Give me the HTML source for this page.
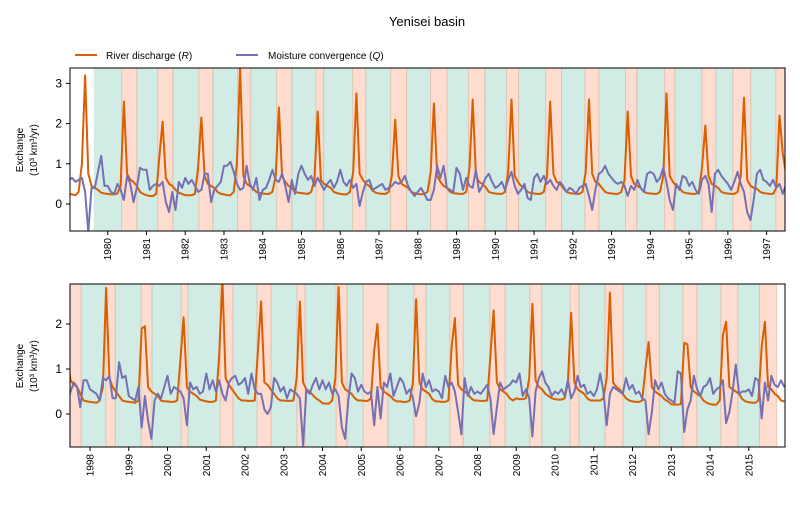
<!DOCTYPE html>
<html><head><meta charset="utf-8"><style>
body{margin:0;background:#fff;}
svg text{font-family:"Liberation Sans","DejaVu Sans",sans-serif;}
</style></head><body>
<svg id="chart" width="800" height="500" xmlns="http://www.w3.org/2000/svg">
<text x="427" y="26" text-anchor="middle" font-size="13">Yenisei basin</text>
<g>
 <line x1="75" y1="55" x2="97" y2="55" stroke="#d95f02" stroke-width="2"/>
 <text x="106" y="59" font-size="10">River discharge (<tspan font-style="italic">R</tspan>)</text>
 <line x1="236" y1="55" x2="258" y2="55" stroke="#7570b3" stroke-width="2"/>
 <text x="268" y="59" font-size="10">Moisture convergence (<tspan font-style="italic">Q</tspan>)</text>
</g>
<defs>
 <clipPath id="c1"><rect x="70" y="68" width="715" height="163"/></clipPath>
 <clipPath id="c2"><rect x="70" y="284" width="715" height="163"/></clipPath>
</defs>
<g id="p1"></g>
<g id="p2"></g>
</svg>
<script>
const years = [1979,1980,1981,1982,1983,1984,1985,1986,1987,1988,1989,1990,1991,1992,1993,1994,1995,1996,1997,1998,1999,2000,2001,2002,2003,2004,2005,2006,2007,2008,2009,2010,2011,2012,2013,2014,2015];
const riverR = [
[.25,.24,.22,.30,1.0,3.2,.75,.45,.4,.35,.28,.26],
[.25,.24,.24,.26,.45,2.55,.75,.6,.55,.45,.3,.25],
[.22,.2,.2,.25,1.2,2.05,.65,.5,.45,.35,.28,.25],
[.22,.22,.22,.25,.9,2.15,.7,.5,.45,.4,.3,.25],
[.24,.22,.22,.3,1.0,3.4,.7,.5,.45,.38,.3,.27],
[.26,.25,.25,.3,.7,2.4,.7,.55,.45,.4,.3,.28],
[.27,.26,.25,.3,.6,2.3,.6,.5,.45,.4,.3,.27],
[.25,.24,.24,.3,.8,2.75,.75,.6,.5,.45,.33,.28],
[.26,.25,.25,.3,.7,2.1,.7,.5,.45,.4,.3,.27],
[.25,.24,.25,.3,.8,2.5,.7,.55,.45,.4,.3,.27],
[.26,.25,.25,.3,.9,2.6,.7,.55,.5,.42,.3,.27],
[.26,.25,.25,.3,.8,2.6,.7,.55,.45,.4,.3,.27],
[.26,.25,.25,.3,.7,2.55,.75,.55,.5,.4,.3,.27],
[.26,.25,.25,.3,.8,2.6,.75,.55,.5,.4,.3,.27],
[.26,.25,.25,.3,.6,2.3,.7,.5,.45,.4,.3,.27],
[.26,.25,.25,.3,.7,2.75,.7,.55,.45,.4,.3,.27],
[.26,.25,.25,.3,.9,1.95,.7,.5,.45,.4,.3,.27],
[.26,.25,.25,.3,.7,2.65,.6,.45,.4,.38,.3,.27],
[.26,.25,.25,.4,2.2,1.25,.75,.65,.6,.45,.3,.28],
[.27,.26,.25,.3,.6,2.8,.8,.6,.5,.4,.3,.28],
[.27,.26,.25,.3,1.9,1.95,.6,.5,.45,.4,.3,.28],
[.28,.27,.27,.3,1.2,2.15,.6,.5,.45,.4,.32,.3],
[.28,.27,.27,.3,1.3,3.0,.8,.65,.55,.45,.35,.3],
[.3,.29,.29,.3,1.4,2.5,.7,.65,.55,.45,.35,.3],
[.3,.29,.29,.3,.8,2.5,.7,.55,.5,.42,.35,.3],
[.24,.23,.23,.3,.8,2.82,.7,.55,.5,.45,.35,.3],
[.3,.29,.29,.35,1.4,2.0,.6,.5,.45,.4,.32,.28],
[.28,.27,.27,.3,.7,2.55,.7,.55,.5,.45,.33,.28],
[.28,.27,.27,.3,1.5,2.13,.65,.55,.5,.45,.35,.3],
[.3,.29,.29,.3,1.3,2.3,.7,.55,.5,.45,.35,.3],
[.35,.33,.33,.35,.8,2.45,.75,.6,.55,.45,.4,.35],
[.33,.32,.32,.35,.7,2.25,.7,.55,.5,.45,.35,.3],
[.3,.3,.3,.35,.8,2.7,.7,.6,.55,.45,.35,.3],
[.28,.27,.27,.3,1.0,1.6,.6,.5,.45,.4,.32,.28],
[.22,.21,.21,.22,1.58,1.55,.6,.5,.45,.4,.3,.25],
[.22,.21,.21,.3,1.75,2.05,.6,.55,.5,.45,.33,.28],
[.26,.25,.25,.3,1.5,2.05,.6,.55,.45,.4,.3,.28]];
const moistureQ = [
[.6,.65,.55,.6,.65,.3,-.7,.4,.4,.8,1.2,.45],
[.45,.3,.25,.5,.35,.1,.7,.5,.05,.4,.9,.85],
[.85,.35,.45,.5,.45,.55,.05,-.2,.3,-.15,.55,.4],
[.65,.5,.6,.45,.3,.35,.75,.75,.05,.35,.45,.55],
[.95,.95,1.05,.8,.5,.35,.4,.95,.5,.35,.65,.1],
[.35,.4,.6,.85,.6,.55,.75,.45,.05,.6,.25,.75],
[.95,.75,.6,.7,.45,.65,.5,.35,.5,.6,.4,.55],
[.85,.55,.45,.6,.4,.5,-.05,.3,.55,.6,.35,.4],
[.45,.5,.35,.4,.45,.55,.5,.55,.7,.45,.3,.2],
[.3,.4,.25,.1,.1,.35,.95,.65,.95,.4,.35,.3],
[.9,.75,.35,.65,.45,.4,.85,.3,.45,.65,.75,.55],
[.4,.45,.55,.35,.6,.8,.45,.25,.35,.5,.15,.1],
[.65,.75,.55,.7,.5,.6,.45,.35,.55,.45,.3,.4],
[.35,.25,.4,.45,.5,.2,-.15,.35,.75,.8,.95,.75],
[.65,.55,.5,.55,.45,.2,.45,.35,.6,.4,.3,.75],
[.8,.75,.55,.65,.9,.55,.1,-.15,.5,.35,.7,.65],
[.45,.55,.35,.25,.6,.7,.5,-.2,.75,.85,.7,.6],
[.5,.35,.55,.8,.5,.3,-.2,-.4,.1,.75,.85,.6],
[.55,.45,.6,.4,.5,.25,.5,.7,.6,.15,.75,.75],
[.55,.5,.45,.3,.8,.75,.85,.35,.35,1.15,.8,.85],
[.4,.35,.3,.6,-.3,.4,-.15,-.55,.3,.45,.35,.6],
[.85,.45,.6,.55,.5,.35,-.25,.7,.55,.6,.45,.5],
[.9,.55,.75,.5,.75,.45,.3,.7,.8,.85,.65,.7],
[.8,.45,.9,.55,.45,.45,.1,0,.15,.8,.7,.5],
[.6,.35,.55,.5,.45,.35,-.7,.55,.45,.65,.8,.55],
[.75,.55,.7,.45,.55,.4,-.3,-.55,.3,.9,.8,.5],
[.65,.5,.45,.5,-.25,.6,-.1,.7,.6,.9,.4,.6],
[.8,.7,.45,.55,.35,-.05,.25,.9,.6,.75,.5,.55],
[.5,.35,.85,.6,.7,.5,.05,-.45,.8,.4,.6,.45],
[.5,.45,.55,.65,.35,-.45,.15,.7,.55,.6,.65,.75],
[.7,.9,.4,.55,.35,-.5,.5,.8,.95,.7,.6,.4],
[.5,.45,.55,.4,.75,.35,.5,.85,.6,.65,.45,.5],
[.4,.55,.9,.5,-.25,.45,.6,.55,.5,.45,.8,.55],
[.65,.45,.5,.35,.3,-.45,.05,.75,.55,.7,.45,.35],
[.3,.25,.95,.9,-.4,.1,.3,.85,.55,.4,.6,.65],
[.8,.45,.55,.6,.75,-.2,.05,.5,1.1,.45,.5,.5],
[.55,.4,.8,.75,-.1,.7,.3,.85,.65,.6,.75,.6]];
const salmonStart = [1980.36,1981.29,1982.35,1983.35,1984.36,1985.37,1986.32,1987.30,1988.33,1989.31,1990.29,1991.30,1992.31,1993.36,1994.37,1995.33,1996.13,1997.24,
 1998.41,1999.32,2000.35,2001.36,2002.31,2003.34,2004.35,2005.05,2006.36,2007.29,2008.32,2009.35,2010.39,2011.29,2012.35,2013.30,2014.28,2015.28];
const salmonEnd = [1980.75,1981.68,1982.71,1983.69,1984.75,1985.57,1986.66,1987.71,1988.75,1989.73,1990.60,1991.71,1992.67,1993.65,1994.63,1995.69,1996.59,1997.77,
 1998.65,1999.60,2000.53,2001.69,2002.67,2003.55,2004.63,2005.69,2006.67,2007.63,2008.71,2009.66,2010.62,2011.75,2012.69,2013.66,2014.72,2015.72];
const shadeFirst = 1979.64, shadeLast = 2015.72;
const topTicksY = [0,1,2,3], botTicksY = [0,1,2];

const NS="http://www.w3.org/2000/svg";
function mk(tag, attrs, parent){const e=document.createElementNS(NS,tag);for(const k in attrs)e.setAttribute(k,attrs[k]);parent.appendChild(e);return e;}
const panels=[
 {g:document.getElementById('p1'),clip:'c1',x0:70,x1:785,y0:68,y1:231,yr0:1980,px0:107.7,ppy:38.76,v0:204,ppv:40.2,yt:topTicksY,ymid:150,ty0:1980,ty1:1997},
 {g:document.getElementById('p2'),clip:'c2',x0:70,x1:785,y0:284,y1:447,yr0:1998,px0:90,ppy:38.75,v0:414,ppv:45,yt:botTicksY,ymid:366,ty0:1998,ty1:2015}
];
panels.forEach((P,pi)=>{
 const xs=t=>P.px0+(t-P.yr0)*P.ppy;
 const ys=v=>P.v0-v*P.ppv;
 const cg=mk('g',{'clip-path':'url(#'+P.clip+')'},P.g);
 // green spans
 let prev=shadeFirst;
 for(let i=0;i<salmonStart.length;i++){
  const gr=mk('rect',{x:xs(prev),y:P.y0,width:Math.max(0,xs(salmonStart[i])-xs(prev)),height:P.y1-P.y0,fill:'#1b9e77','fill-opacity':0.2},cg);
  
  
  const sr=mk('rect',{x:xs(salmonStart[i]),y:P.y0,width:xs(salmonEnd[i])-xs(salmonStart[i]),height:P.y1-P.y0,fill:'#fc8d62','fill-opacity':0.3,stroke:'#d9a58a','stroke-width':1,'stroke-opacity':0.5},cg);
  
  
  prev=salmonEnd[i];
 }
 function series(arr,color,name){
  let d='';
  years.forEach((y,yi)=>arr[yi].forEach((v,m)=>{d+=(d?'L':'M')+xs(y+m/12).toFixed(1)+','+ys(v).toFixed(1);}));
  const p=mk('path',{d:d,fill:'none',stroke:color,'stroke-width':2,'stroke-linejoin':'round'},cg);
  
  
 }
 series(riverR,'#d95f02','river-discharge-line');
 series(moistureQ,'#7570b3','moisture-convergence-line');
 const fr=mk('rect',{x:P.x0,y:P.y0,width:P.x1-P.x0,height:P.y1-P.y0,fill:'none',stroke:'#000','stroke-width':1},P.g);
 
 
 P.yt.forEach(v=>{
  mk('line',{x1:P.x0-4,x2:P.x0,y1:ys(v),y2:ys(v),stroke:'#000'},P.g);
  const t=mk('text',{x:P.x0-8,y:ys(v)+4,'text-anchor':'end','font-size':12},P.g);
  t.textContent=v;
  
  
 });
 for(let y=P.ty0;y<=P.ty1;y++){
  const x=xs(y);
  mk('line',{x1:x,x2:x,y1:P.y1,y2:P.y1+4,stroke:'#000'},P.g);
  const t=mk('text',{x:0,y:0,'text-anchor':'end','font-size':10,transform:'translate('+(x+3.5)+','+(P.y1+7)+') rotate(-90)'},P.g);
  t.textContent=y;
  
  
 }
 const yl=mk('text',{x:0,y:0,'text-anchor':'middle','font-size':10,transform:'translate(23,'+P.ymid+') rotate(-90)'},P.g);
 yl.textContent='Exchange';
 
 
 const yl2=mk('text',{x:0,y:0,'text-anchor':'middle','font-size':10,transform:'translate(37,'+P.ymid+') rotate(-90)'},P.g);
 yl2.textContent='(10³ km³/yr)';
 
 
});
</script>
</body></html>
